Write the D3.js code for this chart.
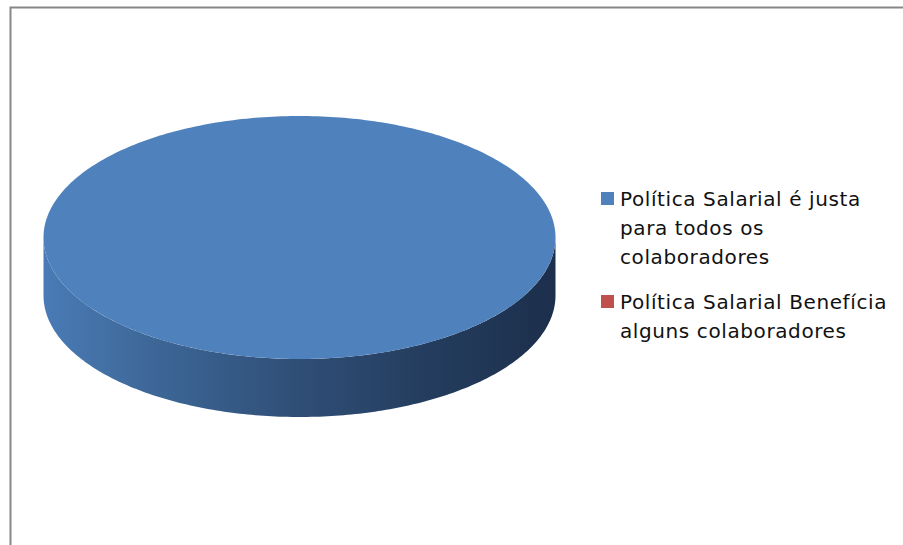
<!DOCTYPE html>
<html>
<head>
<meta charset="utf-8">
<script src="https://cdn.jsdelivr.net/npm/d3@7/dist/d3.min.js"></script>
<style>
  html, body { margin: 0; padding: 0; background: #fff; }
  svg { display: block; }
</style>
</head>
<body>
<svg id="chart" width="903" height="545"></svg>
<script>
// Survey answers about the salary policy
const categories = [
  "Política Salarial é justa para todos os colaboradores",
  "Política Salarial Benefícia alguns colaboradores"
];
const legendLines = [
  ["Política Salarial é justa", "para todos os", "colaboradores"],
  ["Política Salarial Benefícia", "alguns colaboradores"]
];
const values = [100, 0];
const colors = ["#4F81BD", "#C0504D"];

const svg = d3.select("#chart");
const W = 903, H = 545;

// chart frame
svg.append("rect")
  .attr("x", 10.5).attr("y", 7.5)
  .attr("width", W).attr("height", H)
  .attr("fill", "#fff")
  .attr("stroke", "#878787").attr("stroke-width", 2);

// 3D pie geometry
const cx = 299.5, cy = 237.5, rx = 256, ry = 121.5, depth = 58;

const defs = svg.append("defs");
const grad = defs.append("linearGradient")
  .attr("id", "sideGrad")
  .attr("gradientUnits", "userSpaceOnUse")
  .attr("x1", cx - rx).attr("x2", cx + rx).attr("y1", 0).attr("y2", 0);
[[0, "#4a7bb6"], [0.2, "#3e6899"], [0.5, "#2f4e76"], [0.75, "#243d5e"], [1, "#1c2f4c"]]
  .forEach(([o, c]) => grad.append("stop").attr("offset", o).attr("stop-color", c));

const pie = d3.pie().sort(null).value(d => d)
  .startAngle(0).endAngle(2 * Math.PI);
const arcs = pie(values);

const pt = (a, dy) => [cx + rx * Math.sin(a), cy + dy - ry * Math.cos(a)];

function ellipseArcPath(a0, a1, dy, n) {
  const pts = [];
  for (let i = 0; i <= n; i++) pts.push(pt(a0 + (a1 - a0) * i / n, dy));
  return pts;
}

// side walls: only the front half (angles PI/2 .. 3PI/2) is visible
const sideG = svg.append("g");
arcs.forEach((d, i) => {
  if (d.endAngle - d.startAngle <= 0) return;
  const a0 = Math.max(d.startAngle, Math.PI / 2);
  const a1 = Math.min(d.endAngle, 3 * Math.PI / 2);
  if (a1 <= a0) return;
  const top = ellipseArcPath(a0, a1, 0, 200);
  const bottom = ellipseArcPath(a1, a0, depth, 200);
  const path = d3.line()(top.concat(bottom)) + "Z";
  sideG.append("path")
    .attr("d", path)
    .attr("fill", i === 0 ? "url(#sideGrad)" : d3.color(colors[i]).darker(1));
});

// top face
const topG = svg.append("g");
arcs.forEach((d, i) => {
  if (d.endAngle - d.startAngle <= 0) return;
  let p;
  if (d.endAngle - d.startAngle >= 2 * Math.PI - 1e-9) {
    p = d3.line()(ellipseArcPath(0, 2 * Math.PI, 0, 360)) + "Z";
  } else {
    p = "M" + cx + "," + cy + "L" + d3.line()(ellipseArcPath(d.startAngle, d.endAngle, 0, 200)).slice(1) + "Z";
  }
  topG.append("path").attr("d", p).attr("fill", colors[i]);
});

// legend
const legend = svg.append("g").attr("font-family", "'DejaVu Sans', sans-serif")
  .attr("font-size", 20).attr("letter-spacing", 0.6).attr("fill", "#111");
const entryBaselines = [206, 309];
const lineH = 29;
categories.forEach((c, i) => {
  const g = legend.append("g");
  g.append("rect")
    .attr("x", 601).attr("y", entryBaselines[i] - 14)
    .attr("width", 13).attr("height", 13)
    .attr("fill", colors[i]);
  legendLines[i].forEach((t, j) => {
    g.append("text")
      .attr("x", 620).attr("y", entryBaselines[i] + j * lineH)
      .text(t);
  });
});
</script>
</body>
</html>
